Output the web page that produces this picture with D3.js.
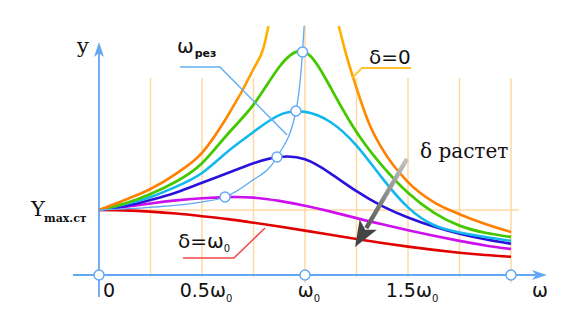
<!DOCTYPE html>
<html>
<head>
<meta charset="utf-8">
<script src="https://cdn.jsdelivr.net/npm/d3@7"></script>
<style>
  body { margin: 0; background: #fff; }
  svg { display: block; }
  text { font-family: "DejaVu Sans", sans-serif; fill: #111; }
  .serif { font-family: "DejaVu Serif", serif; }
</style>
</head>
<body>
<svg id="chart" width="579" height="326"></svg>
<script>
// ω in units of ω0, amplitude in units of Ymax.ст
const omega = [0, 0.125, 0.25, 0.375, 0.5, 0.625, 0.75, 0.875, 1, 1.125, 1.25, 1.375, 1.5, 1.625, 1.75, 1.875, 2];

const green   = [1.0, 1.1, 1.246, 1.44, 1.72, 2.17, 2.62, 3.2, 3.43, 2.88, 2.2, 1.68, 1.265, 0.96, 0.76, 0.65, 0.585];
const cyan    = [1.0, 1.09, 1.2, 1.36, 1.57, 1.9, 2.2, 2.46, 2.51, 2.35, 1.99, 1.49, 1.04, 0.77, 0.655, 0.585, 0.525];
const blue    = [1.0, 1.06, 1.154, 1.27, 1.42, 1.57, 1.72, 1.815, 1.78, 1.56, 1.29, 1.06, 0.885, 0.745, 0.635, 0.55, 0.48];
const magenta = [1.0, 1.045, 1.1, 1.148, 1.18, 1.198, 1.19, 1.14, 1.065, 0.975, 0.875, 0.78, 0.69, 0.605, 0.525, 0.455, 0.4];
const red     = [1.0, 0.994, 0.975, 0.945, 0.905, 0.86, 0.805, 0.745, 0.683, 0.618, 0.553, 0.492, 0.436, 0.386, 0.343, 0.307, 0.28];

// δ = 0 : two branches around the asymptote at ω0
const omegaLeft  = [0, 0.125, 0.25, 0.375, 0.5, 0.625, 0.75, 0.8, 0.83];
const zeroLeft   = [1.0, 1.154, 1.323, 1.56, 1.88, 2.45, 3.17, 3.51, 3.954];
const omegaRight = [1.16, 1.2, 1.25, 1.3125, 1.375, 1.5, 1.625, 1.75, 1.875, 2];
const zeroRight  = [3.88, 3.39, 2.877, 2.32, 1.94, 1.43, 1.12, 0.935, 0.785, 0.662];

// locus of the resonance peaks (ω_рез)
const resOmega = [0, 0.248, 0.495, 0.612, 0.733, 0.864, 0.956, 0.988, 0.998];
const resY     = [1.0, 1.04, 1.12, 1.2, 1.43, 1.815, 2.523, 3.43, 3.95];
const peakOmega = [0.612, 0.864, 0.956, 0.988];
const peakY     = [1.2, 1.815, 2.523, 3.43];

const gridOmega = [0.25, 0.5, 0.75, 1, 1.25, 1.5, 1.75, 2];
const axisMarks = [0, 1, 2];
const tickOmega = [0.5, 1, 1.5];
const tickText  = ["0.5ω", "ω", "1.5ω"];

const svg = d3.select("#chart");

var x = d3.scaleLinear().domain([0, 2]).range([99, 511]);
var y = d3.scaleLinear().domain([0, 1]).range([275, 210]);

const defs = svg.append("defs");
defs.append("clipPath").attr("id", "plot")
  .append("rect").attr("x", 60).attr("y", 26).attr("width", 500).attr("height", 280);

let og = defs.append("linearGradient").attr("id", "orangeGrad")
  .attr("gradientUnits", "userSpaceOnUse")
  .attr("x1", 0).attr("y1", y(3.9)).attr("x2", 0).attr("y2", y(2.2));
og.append("stop").attr("offset", 0).attr("stop-color", "#ffbb00");
og.append("stop").attr("offset", 1).attr("stop-color", "#ff7f00");

// arrow "δ растет"
const arrowFrom = [1.495, 1.785], arrowTo = [1.243, 0.431];
let ag = defs.append("linearGradient").attr("id", "arrowGrad")
  .attr("gradientUnits", "userSpaceOnUse")
  .attr("x1", x(arrowFrom[0])).attr("y1", y(arrowFrom[1]))
  .attr("x2", x(arrowTo[0])).attr("y2", y(arrowTo[1]));
ag.append("stop").attr("offset", 0).attr("stop-color", "#c4c4c4");
ag.append("stop").attr("offset", 1).attr("stop-color", "#3c3c3c");

// grid
svg.selectAll(".vgrid").data(gridOmega).enter().append("line")
  .attr("x1", d => x(d)).attr("x2", d => x(d))
  .attr("y1", d => d === 1 ? 25 : 78).attr("y2", d => d === 1 || d === 2 ? 283 : 277)
  .attr("stroke", "#ffd9a3").attr("stroke-width", 1.5);
svg.append("line")
  .attr("x1", x(0)).attr("x2", 519).attr("y1", y(1)).attr("y2", y(1))
  .attr("stroke", "#ffd9a3").attr("stroke-width", 1.5);

// axes
const axisColor = "#62a8f6";
svg.append("line").attr("x1", 73).attr("x2", 540).attr("y1", y(0)).attr("y2", y(0))
  .attr("stroke", axisColor).attr("stroke-width", 1.8);
svg.append("path").attr("d", "M547,275 L532,270 L536,275 L532,280 Z").attr("fill", axisColor);
svg.append("line").attr("x1", x(0)).attr("x2", x(0)).attr("y1", 297).attr("y2", 50)
  .attr("stroke", axisColor).attr("stroke-width", 1.8);
svg.append("path").attr("d", "M99,42 L94,57 L99,53 L104,57 Z").attr("fill", axisColor);

// curves
const smooth = d3.line()
  .x(d => x(d[0])).y(d => y(d[1]))
  .curve(d3.curveNatural);
const mono = d3.line()
  .x(d => x(d[0])).y(d => y(d[1]))
  .curve(d3.curveMonotoneX);

const plot = svg.append("g").attr("clip-path", "url(#plot)");

const series = [
  { v: red, color: "#e00000", w: 2.6 },
  { v: magenta, color: "#cc10ee", w: 2.6 },
  { v: blue, color: "#2a12dc", w: 2.6 },
  { v: cyan, color: "#12b8ec", w: 2.6 },
  { v: green, color: "#45c800", w: 2.8 }
];
series.forEach(s => {
  plot.append("path")
    .attr("d", smooth(omega.map((o, i) => [o, s.v[i]])))
    .attr("fill", "none").attr("stroke", s.color).attr("stroke-width", s.w);
});

plot.append("path").attr("d", mono(omegaLeft.map((o, i) => [o, zeroLeft[i]])))
  .attr("fill", "none").attr("stroke", "url(#orangeGrad)").attr("stroke-width", 2.6);
plot.append("path").attr("d", mono(omegaRight.map((o, i) => [o, zeroRight[i]])))
  .attr("fill", "none").attr("stroke", "url(#orangeGrad)").attr("stroke-width", 2.6);

plot.append("path").attr("d", mono(resOmega.map((o, i) => [o, resY[i]])))
  .attr("fill", "none").attr("stroke", "#5fa9f2").attr("stroke-width", 1.3);

// leader lines
const plain = d3.line().x(d => x(d[0])).y(d => y(d[1]));
svg.append("path").attr("d", plain([[0.393, 3.2], [0.587, 3.2], [0.913, 2.154]]))
  .attr("fill", "none").attr("stroke", "#62b0f2").attr("stroke-width", 1.5);
svg.append("path").attr("d", plain([[1.515, 3.185], [1.277, 3.185], [1.228, 3.03]]))
  .attr("fill", "none").attr("stroke", "#ffc22a").attr("stroke-width", 1.8);
svg.append("path").attr("d", plain([[0.408, 0.262], [0.655, 0.262], [0.806, 0.723]]))
  .attr("fill", "none").attr("stroke", "#f04848").attr("stroke-width", 1.5);

// markers
svg.selectAll(".peak").data(peakOmega).enter().append("circle")
  .attr("cx", d => x(d)).attr("cy", (d, i) => y(peakY[i])).attr("r", 5)
  .attr("fill", "#fff").attr("stroke", axisColor).attr("stroke-width", 1.5);
svg.selectAll(".amark").data(axisMarks).enter().append("circle")
  .attr("cx", d => x(d)).attr("cy", y(0)).attr("r", 5)
  .attr("fill", "#fff").attr("stroke", axisColor).attr("stroke-width", 1.5);

// arrow
let ax1 = x(arrowFrom[0]), ay1 = y(arrowFrom[1]), ax2 = x(arrowTo[0]), ay2 = y(arrowTo[1]);
let len = Math.hypot(ax2 - ax1, ay2 - ay1);
let ux = (ax2 - ax1) / len, uy = (ay2 - ay1) / len;
let bx = ax2 - ux * 26, by = ay2 - uy * 26;
svg.append("line").attr("x1", ax1).attr("y1", ay1).attr("x2", bx + ux * 4).attr("y2", by + uy * 4)
  .attr("stroke", "url(#arrowGrad)").attr("stroke-width", 4.5);
svg.append("path")
  .attr("d", `M${ax2},${ay2} L${bx - uy * 10},${by + ux * 10} L${bx + ux * 6},${by + uy * 6} L${bx + uy * 10},${by - ux * 10} Z`)
  .attr("fill", "#444");

// text
svg.append("text").attr("class", "serif").attr("x", 83).attr("y", 53)
  .attr("text-anchor", "middle").attr("font-size", 21).text("y");

let ys = svg.append("text").attr("class", "serif").attr("x", 31).attr("y", 216).attr("font-size", 21);
ys.append("tspan").text("Y");
ys.append("tspan").attr("x", 44).attr("y", 222).attr("font-size", 11).attr("font-weight", "bold").text("max.ст");

let wr = svg.append("text").attr("x", 177).attr("y", 53).attr("font-size", 20);
wr.append("tspan").text("ω");
wr.append("tspan").attr("dy", 4).attr("font-size", 11).attr("font-weight", "bold").attr("dx", 1).text("рез");

svg.append("text").attr("x", 369).attr("y", 64).attr("font-size", 20).text("δ=0");
svg.append("text").attr("class", "serif").attr("x", 420).attr("y", 158).attr("font-size", 20).text("δ растет");

let dw = svg.append("text").attr("x", 178).attr("y", 248).attr("font-size", 20);
dw.append("tspan").text("δ=ω");
dw.append("tspan").attr("dy", 4).attr("font-size", 10).text("0");

svg.append("text").attr("x", 103).attr("y", 297).attr("font-size", 19).text("0");
svg.selectAll(".tick").data(tickOmega).enter().append("text")
  .attr("x", d => x(d) + 4).attr("y", 297).attr("font-size", 19).attr("text-anchor", "middle")
  .each(function (d, i) {
    d3.select(this).append("tspan").text(tickText[i]);
    d3.select(this).append("tspan").attr("dy", 5).attr("font-size", 10).text("0");
  });
svg.append("text").attr("x", 532).attr("y", 297).attr("font-size", 19).text("ω");
</script>
</body>
</html>
